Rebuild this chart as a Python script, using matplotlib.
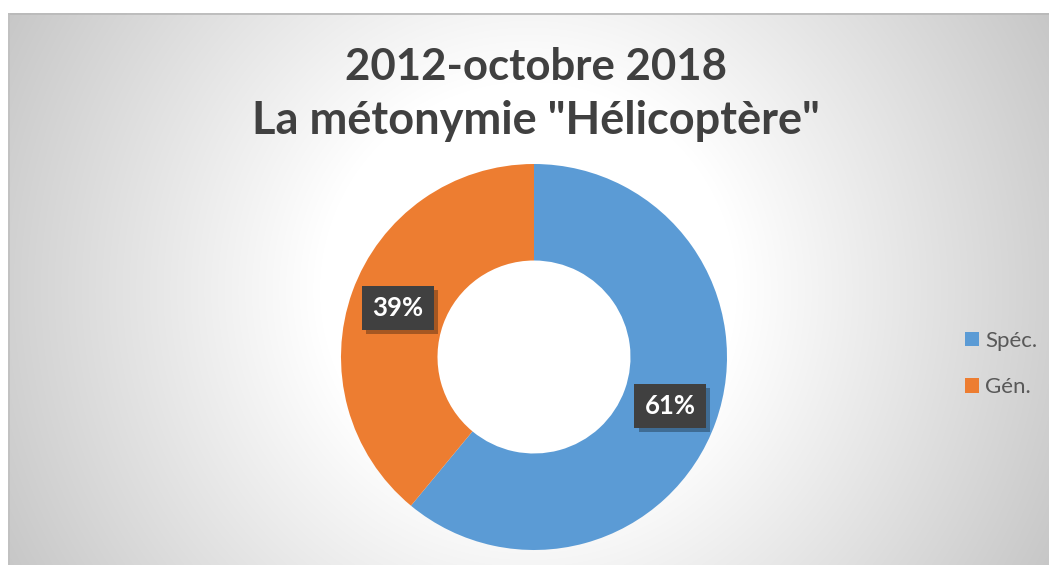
import numpy as np
import matplotlib
matplotlib.use("Agg")
import matplotlib.pyplot as plt
from matplotlib.patches import Patch
from matplotlib import patheffects as pe

# ---- data ----
categories = ["Spéc.", "Gén."]
shares = [61, 39]
colors = ["#5B9BD5", "#ED7D31"]
title_lines = ["2012-octobre 2018", 'La métonymie "Hélicoptère"']

W, H = 1049, 565
plt.rcParams['font.family'] = ['Lato', 'DejaVu Sans']
fig = plt.figure(figsize=(W / 100, H / 100), dpi=100)
fig.patch.set_facecolor("white")

# ---- background (radial gradient chart area) ----
x0, y0top = 8, 13
bg = fig.add_axes([x0 / W, 0, 1 - x0 / W, (H - y0top) / H])
bw, bh = W - x0, H - y0top
xx, yy = np.meshgrid(np.arange(bw) + x0, np.arange(bh) + y0top)
d = np.hypot(xx - 528, yy - 290)
v = np.clip(1.12 - 0.000576 * d, 0, 1)
img = np.dstack([v, v, v])
bg.imshow(img, aspect="auto", extent=[0, 1, 0, 1], origin="upper")
bg.set_xlim(0, 1)
bg.set_ylim(0, 1)
bg.axis("off")
bg.plot([0, 1], [0.999, 0.999], color="#b8b8b8", lw=1.2, transform=bg.transAxes)
bg.plot([0.0005, 0.0005], [0, 1], color="#c0c0c0", lw=1.2, transform=bg.transAxes)

# ---- donut ----
cx, cy, R = 534, H - 357, 193
ax = fig.add_axes([(cx - R) / W, (cy - R) / H, 2 * R / W, 2 * R / H])
wedges, _ = ax.pie(shares, colors=colors, startangle=90, counterclock=False,
                   radius=1, wedgeprops=dict(width=0.5, edgecolor="none"))
ax.set_xlim(-1, 1)
ax.set_ylim(-1, 1)
ax.axis("off")

total = sum(shares)
cum = 0
for s in shares:
    mid = (cum + s / 2) / total * 2 * np.pi
    cum += s
    r = 0.75
    x, y = r * np.sin(mid), r * np.cos(mid)
    t = ax.text(x, y, f"{round(s / total * 100)}%", ha="center", va="center",
                color="white", fontsize=18.5, fontweight="bold",
                bbox=dict(boxstyle="square,pad=0.4", facecolor="#404040",
                          edgecolor="none"))
    t.get_bbox_patch().set_path_effects([
        pe.withSimplePatchShadow(offset=(3, -3), shadow_rgbFace="black", alpha=0.3),
        pe.Normal()])

# ---- title ----
fig.text(536 / W, (H - 80) / H, title_lines[0], ha="center", va="baseline",
         fontsize=31.5, fontweight="bold", color="#404040")
fig.text(536 / W, (H - 134) / H, title_lines[1], ha="center", va="baseline",
         fontsize=32.5, fontweight="bold", color="#404040")

# ---- legend ----
handles = [Patch(facecolor=c, edgecolor="none") for c in colors]
leg = fig.legend(handles, categories, loc="center left",
                 bbox_to_anchor=(965 / W, (H - 364) / H), frameon=False,
                 fontsize=16, handlelength=0.62, handleheight=0.62,
                 handletextpad=0.3, labelspacing=1.2, borderaxespad=0,
                 borderpad=0)
for txt in leg.get_texts():
    txt.set_color("#595959")

fig.savefig("out.png", dpi=100)
